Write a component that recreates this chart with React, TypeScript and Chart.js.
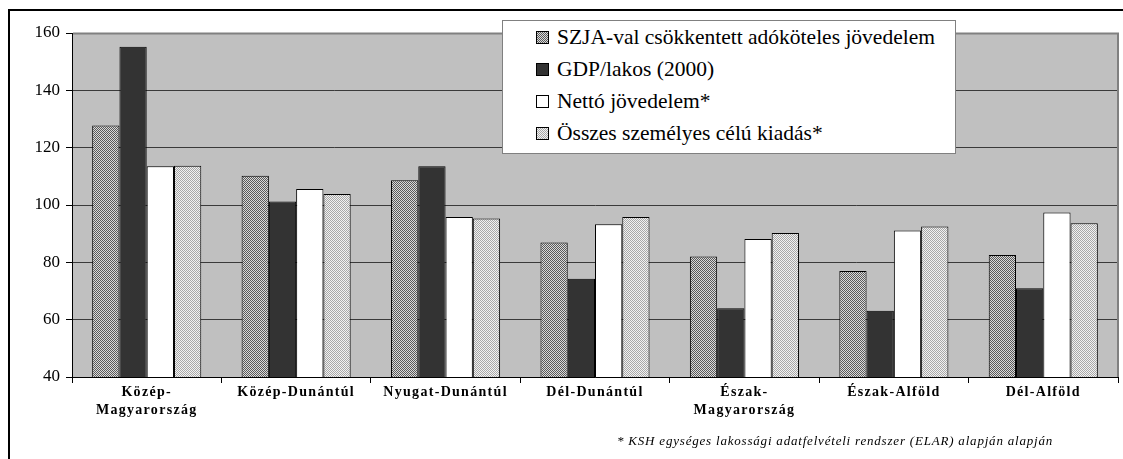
import React, { useEffect, useRef } from "react";
import { Chart, registerables } from "chart.js";

Chart.register(...registerables);

const categories: (string | string[])[] = [
  ["Közép-", "Magyarország"],
  "Közép-Dunántúl",
  "Nyugat-Dunántúl",
  "Dél-Dunántúl",
  ["Észak-", "Magyarország"],
  "Észak-Alföld",
  "Dél-Alföld",
];

const seriesNames = [
  "SZJA-val csökkentett adóköteles jövedelem",
  "GDP/lakos (2000)",
  "Nettó jövedelem*",
  "Összes személyes célú kiadás*",
];

const szja = [127.7, 110.2, 108.6, 86.9, 82.0, 77.0, 82.6];
const gdp = [155.2, 101.2, 113.5, 74.3, 64.0, 63.1, 71.0];
const netto = [113.5, 105.6, 95.8, 93.3, 88.1, 91.1, 97.4];
const kiadas = [113.7, 103.8, 95.3, 95.8, 90.2, 92.5, 93.6];

const yMin = 40;
const yMax = 160;
const yStep = 20;

const footnote = "* KSH egységes lakossági adatfelvételi rendszer (ELAR) alapján alapján";

const SERIF = "'Liberation Serif', serif";

const PAT1: [string, string] = ["#5a5a5a", "#dadada"];
const PAT4: [string, string] = ["#a8a8a8", "#f2f2f2"];

function makePattern(c1: string, c2: string): CanvasPattern | string {
  const cv = document.createElement("canvas");
  cv.width = 2;
  cv.height = 2;
  const g = cv.getContext("2d");
  if (!g) return c1;
  g.fillStyle = c2;
  g.fillRect(0, 0, 2, 2);
  g.fillStyle = c1;
  g.fillRect(0, 0, 1, 1);
  g.fillRect(1, 1, 1, 1);
  const p = g.createPattern(cv, "repeat");
  return p || c1;
}

const cssPattern = (c: [string, string]) =>
  `repeating-conic-gradient(${c[0]} 0% 25%, ${c[1]} 0% 50%) 0 0 / 2px 2px`;

const legendSwatches = [cssPattern(PAT1), "#333333", "#ffffff", cssPattern(PAT4)];

export default function App() {
  const ref = useRef<HTMLCanvasElement | null>(null);

  useEffect(() => {
    const canvas = ref.current;
    if (!canvas) return;

    const bgPlugin = {
      id: "plotBg",
      beforeDraw(chart: any) {
        const { ctx, chartArea } = chart;
        ctx.save();
        ctx.fillStyle = "#c0c0c0";
        ctx.fillRect(chartArea.left, chartArea.top, chartArea.right - chartArea.left, chartArea.bottom - chartArea.top);
        ctx.restore();
      },
      afterDatasetsDraw(chart: any) {
        (chart.ctx as any).letterSpacing = "1.3px";
      },
      afterDraw(chart: any) {
        const { ctx, chartArea } = chart;
        (ctx as any).letterSpacing = "0px";
        ctx.save();
        ctx.strokeStyle = "#808080";
        ctx.lineWidth = 2;
        ctx.beginPath();
        ctx.moveTo(chartArea.left + 1, chartArea.top + 0.5);
        ctx.lineTo(chartArea.right, chartArea.top + 0.5);
        ctx.lineTo(chartArea.right, chartArea.bottom);
        ctx.stroke();
        ctx.restore();
      },
    };

    const chart = new Chart(canvas, {
      type: "bar",
      data: {
        labels: categories,
        datasets: [
          { label: seriesNames[0], data: szja, backgroundColor: makePattern(PAT1[0], PAT1[1]) as any },
          { label: seriesNames[1], data: gdp, backgroundColor: "#333333" },
          { label: seriesNames[2], data: netto, backgroundColor: "#ffffff" },
          { label: seriesNames[3], data: kiadas, backgroundColor: makePattern(PAT4[0], PAT4[1]) as any },
        ].map((d) => ({
          ...d,
          borderColor: "#000000",
          borderWidth: 1,
          barPercentage: 1,
          categoryPercentage: 0.73,
        })),
      },
      options: {
        responsive: false,
        animation: false,
        devicePixelRatio: 1,
        font: { family: SERIF },
        layout: { padding: { left: 10, top: 33, right: 5, bottom: 10 } },
        plugins: { legend: { display: false }, tooltip: { enabled: false } },
        scales: {
          x: {
            grid: {
              offset: true,
              drawOnChartArea: false,
              drawTicks: true,
              tickLength: 6,
              tickColor: "#000000",
            },
            border: { color: "#000000", width: 1 },
            ticks: {
              z: 1,
              padding: 0,
              maxRotation: 0,
              minRotation: 0,
              autoSkip: false,
              color: "#000000",
              font: { family: SERIF, size: 14, weight: "bold", lineHeight: 1.3 },
            },
            afterFit(scale: any) {
              scale.height = 72;
            },
          },
          y: {
            min: yMin,
            max: yMax,
            grid: {
              color: (c: any) => (c.tick && c.tick.value === yMax ? "#808080" : "#3a3a3a"),
              lineWidth: 1,
              drawTicks: true,
              tickLength: 6,
              tickColor: "#000000",
            },
            border: { color: "#000000", width: 1 },
            ticks: {
              stepSize: yStep,
              padding: 6,
              color: "#000000",
              font: { family: SERIF, size: 17 },
            },
            afterFit(scale: any) {
              scale.width = 62;
            },
          },
        },
      } as any,
      plugins: [bgPlugin],
    });

    return () => chart.destroy();
  }, []);

  return (
    <div
      style={{
        position: "absolute",
        left: 0,
        top: 0,
        width: 1123,
        height: 459,
        overflow: "hidden",
        background: "#ffffff",
        fontFamily: SERIF,
      }}
    >
      <div
        style={{
          position: "absolute",
          left: 8,
          top: 9,
          width: 1115,
          height: 450,
          borderTop: "2px solid #000",
          borderLeft: "2px solid #000",
          boxSizing: "border-box",
        }}
      />
      <canvas
        ref={ref}
        width={1123}
        height={459}
        style={{ position: "absolute", left: 0, top: 0, width: 1123, height: 459 }}
      />
      <div
        style={{
          position: "absolute",
          left: 502,
          top: 20,
          width: 454,
          height: 134,
          background: "#ffffff",
          border: "1px solid #808080",
          boxSizing: "border-box",
          fontFamily: SERIF,
          fontSize: 21.5,
          color: "#000",
        }}
      >
        {seriesNames.map((name, i) => (
          <div
            key={name}
            style={{
              position: "absolute",
              left: 33,
              top: 0 + i * 32.3,
              height: 32,
              display: "flex",
              alignItems: "center",
              whiteSpace: "nowrap",
            }}
          >
            <span
              style={{
                display: "inline-block",
                width: 11,
                height: 11,
                border: "1px solid #000",
                background: legendSwatches[i],
                marginRight: 8,
              }}
            />
            <span>{name}</span>
          </div>
        ))}
      </div>
      <div
        style={{
          position: "absolute",
          left: 617,
          top: 433,
          whiteSpace: "nowrap",
          fontFamily: SERIF,
          fontStyle: "italic",
          fontSize: 13,
          letterSpacing: "0.8px",
          lineHeight: "16px",
          color: "#000",
        }}
      >
        {footnote}
      </div>
    </div>
  );
}
